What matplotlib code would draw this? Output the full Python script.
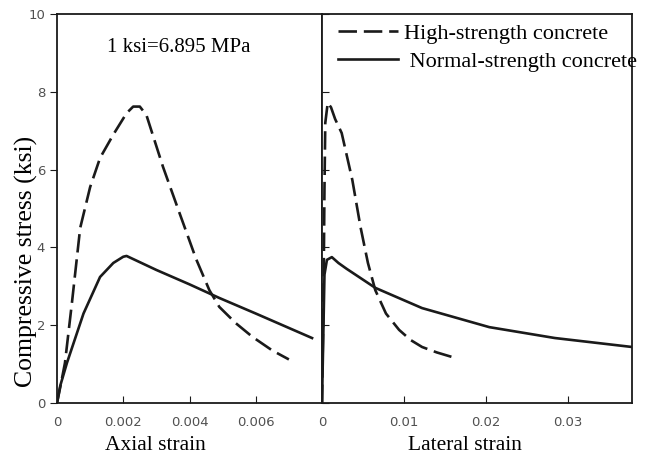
import matplotlib.pyplot as plt

# high-strength concrete, axial
hs_ax_x = [0, 0.00012, 0.00024, 0.00045, 0.0007, 0.001, 0.0013, 0.0017, 0.0021,
           0.0023, 0.0025, 0.0027, 0.0032, 0.0037, 0.0042, 0.0046, 0.0049,
           0.0054, 0.0059, 0.0065, 0.0070]
hs_ax_y = [0, 0.5, 1.03, 2.57, 4.5, 5.55, 6.3, 6.9, 7.45,
           7.62, 7.62, 7.4, 6.07, 4.88, 3.7, 2.9, 2.47,
           2.05, 1.7, 1.35, 1.12]
# normal-strength concrete, axial
ns_ax_x = [0, 0.0001, 0.0003, 0.0008, 0.0013, 0.0017, 0.002, 0.0021,
           0.003, 0.004, 0.0049, 0.006, 0.0077]
ns_ax_y = [0, 0.45, 1.03, 2.3, 3.24, 3.6, 3.76, 3.78,
           3.42, 3.05, 2.7, 2.3, 1.67]
# high-strength concrete, lateral
hs_lat_x = [0, 0.0002, 0.0003, 0.0004, 0.0007, 0.0011, 0.0016, 0.0024, 0.0037,
            0.0047, 0.0056, 0.0065, 0.0078, 0.0094, 0.0108, 0.0122, 0.0140, 0.0159]
hs_lat_y = [0, 3.0, 5.5, 7.2, 7.72, 7.6, 7.3, 6.94, 5.73,
            4.52, 3.6, 2.9, 2.3, 1.88, 1.62, 1.44, 1.3, 1.18]
# normal-strength concrete, lateral
ns_lat_x = [0, 0.0002, 0.0003, 0.0006, 0.0012, 0.002, 0.003, 0.0065, 0.0122,
            0.0204, 0.0284, 0.0378]
ns_lat_y = [0, 2.2, 3.3, 3.68, 3.75, 3.6, 3.45, 2.96, 2.44,
            1.95, 1.67, 1.44]

serif = 'Liberation Serif'
ink = '#1a1a1a'
tick_grey = '#505050'

fig = plt.figure(figsize=(6.5, 4.63), dpi=100)
ax1 = fig.add_axes([57/650, 1-403/463, (322-57)/650, (403-14)/463])
ax2 = fig.add_axes([322/650, 1-403/463, (632-322)/650, (403-14)/463], sharey=ax1)

ax1.plot(hs_ax_x, hs_ax_y, color=ink, lw=1.9, dashes=(7, 2.6))
ax1.plot(ns_ax_x, ns_ax_y, color=ink, lw=1.9)
l1, = ax2.plot(hs_lat_x, hs_lat_y, color=ink, lw=1.9, dashes=(7, 2.6))
l2, = ax2.plot(ns_lat_x, ns_lat_y, color=ink, lw=1.9)

ax1.set_xlim(0, 0.008)
ax1.set_ylim(0, 10)
ax2.set_xlim(0, 0.0378)

ax1.set_xticks([0, 0.002, 0.004, 0.006])
ax1.set_xticklabels(['0', '0.002', '0.004', '0.006'])
ax1.set_yticks([0, 2, 4, 6, 8, 10])
ax2.set_xticks([0, 0.01, 0.02, 0.03])
ax2.set_xticklabels(['0', '0.01', '0.02', '0.03'])
ax2.tick_params(axis='y', direction='in', length=5, left=True, labelleft=False,
                colors=ink)

for ax in (ax1, ax2):
    ax.tick_params(axis='x', direction='in', length=5, colors=ink,
                   labelcolor=tick_grey, labelsize=9.5, pad=9)
    for s in ax.spines.values():
        s.set_color(ink)
        s.set_linewidth(1.3)
ax1.tick_params(axis='y', direction='out', length=5, colors=ink,
                labelcolor=tick_grey, labelsize=9.5)

ax1.set_ylabel('Compressive stress (ksi)', fontsize=18.5, family=serif)
ax1.yaxis.set_label_coords(-0.072, 0.365)
ax1.set_xlabel('Axial strain', fontsize=15.5, family=serif)
ax1.xaxis.set_label_coords(0.37, -0.085)
ax2.set_xlabel('Lateral strain', fontsize=15.5, family=serif)
ax2.xaxis.set_label_coords(0.461, -0.085)

ax1.text(0.189, 0.915, '1 ksi=6.895 MPa', transform=ax1.transAxes,
         fontsize=15, family=serif, va='center')

ax2.legend([l1, l2], ['High-strength concrete', ' Normal-strength concrete'],
           loc='upper left', bbox_to_anchor=(338/650, 1-23/463),
           bbox_transform=fig.transFigure, frameon=False,
           prop={'family': serif, 'size': 16}, handlelength=2.7,
           handletextpad=0.25, labelspacing=0.35, borderaxespad=0, borderpad=0)

fig.savefig('out.png', dpi=100)
